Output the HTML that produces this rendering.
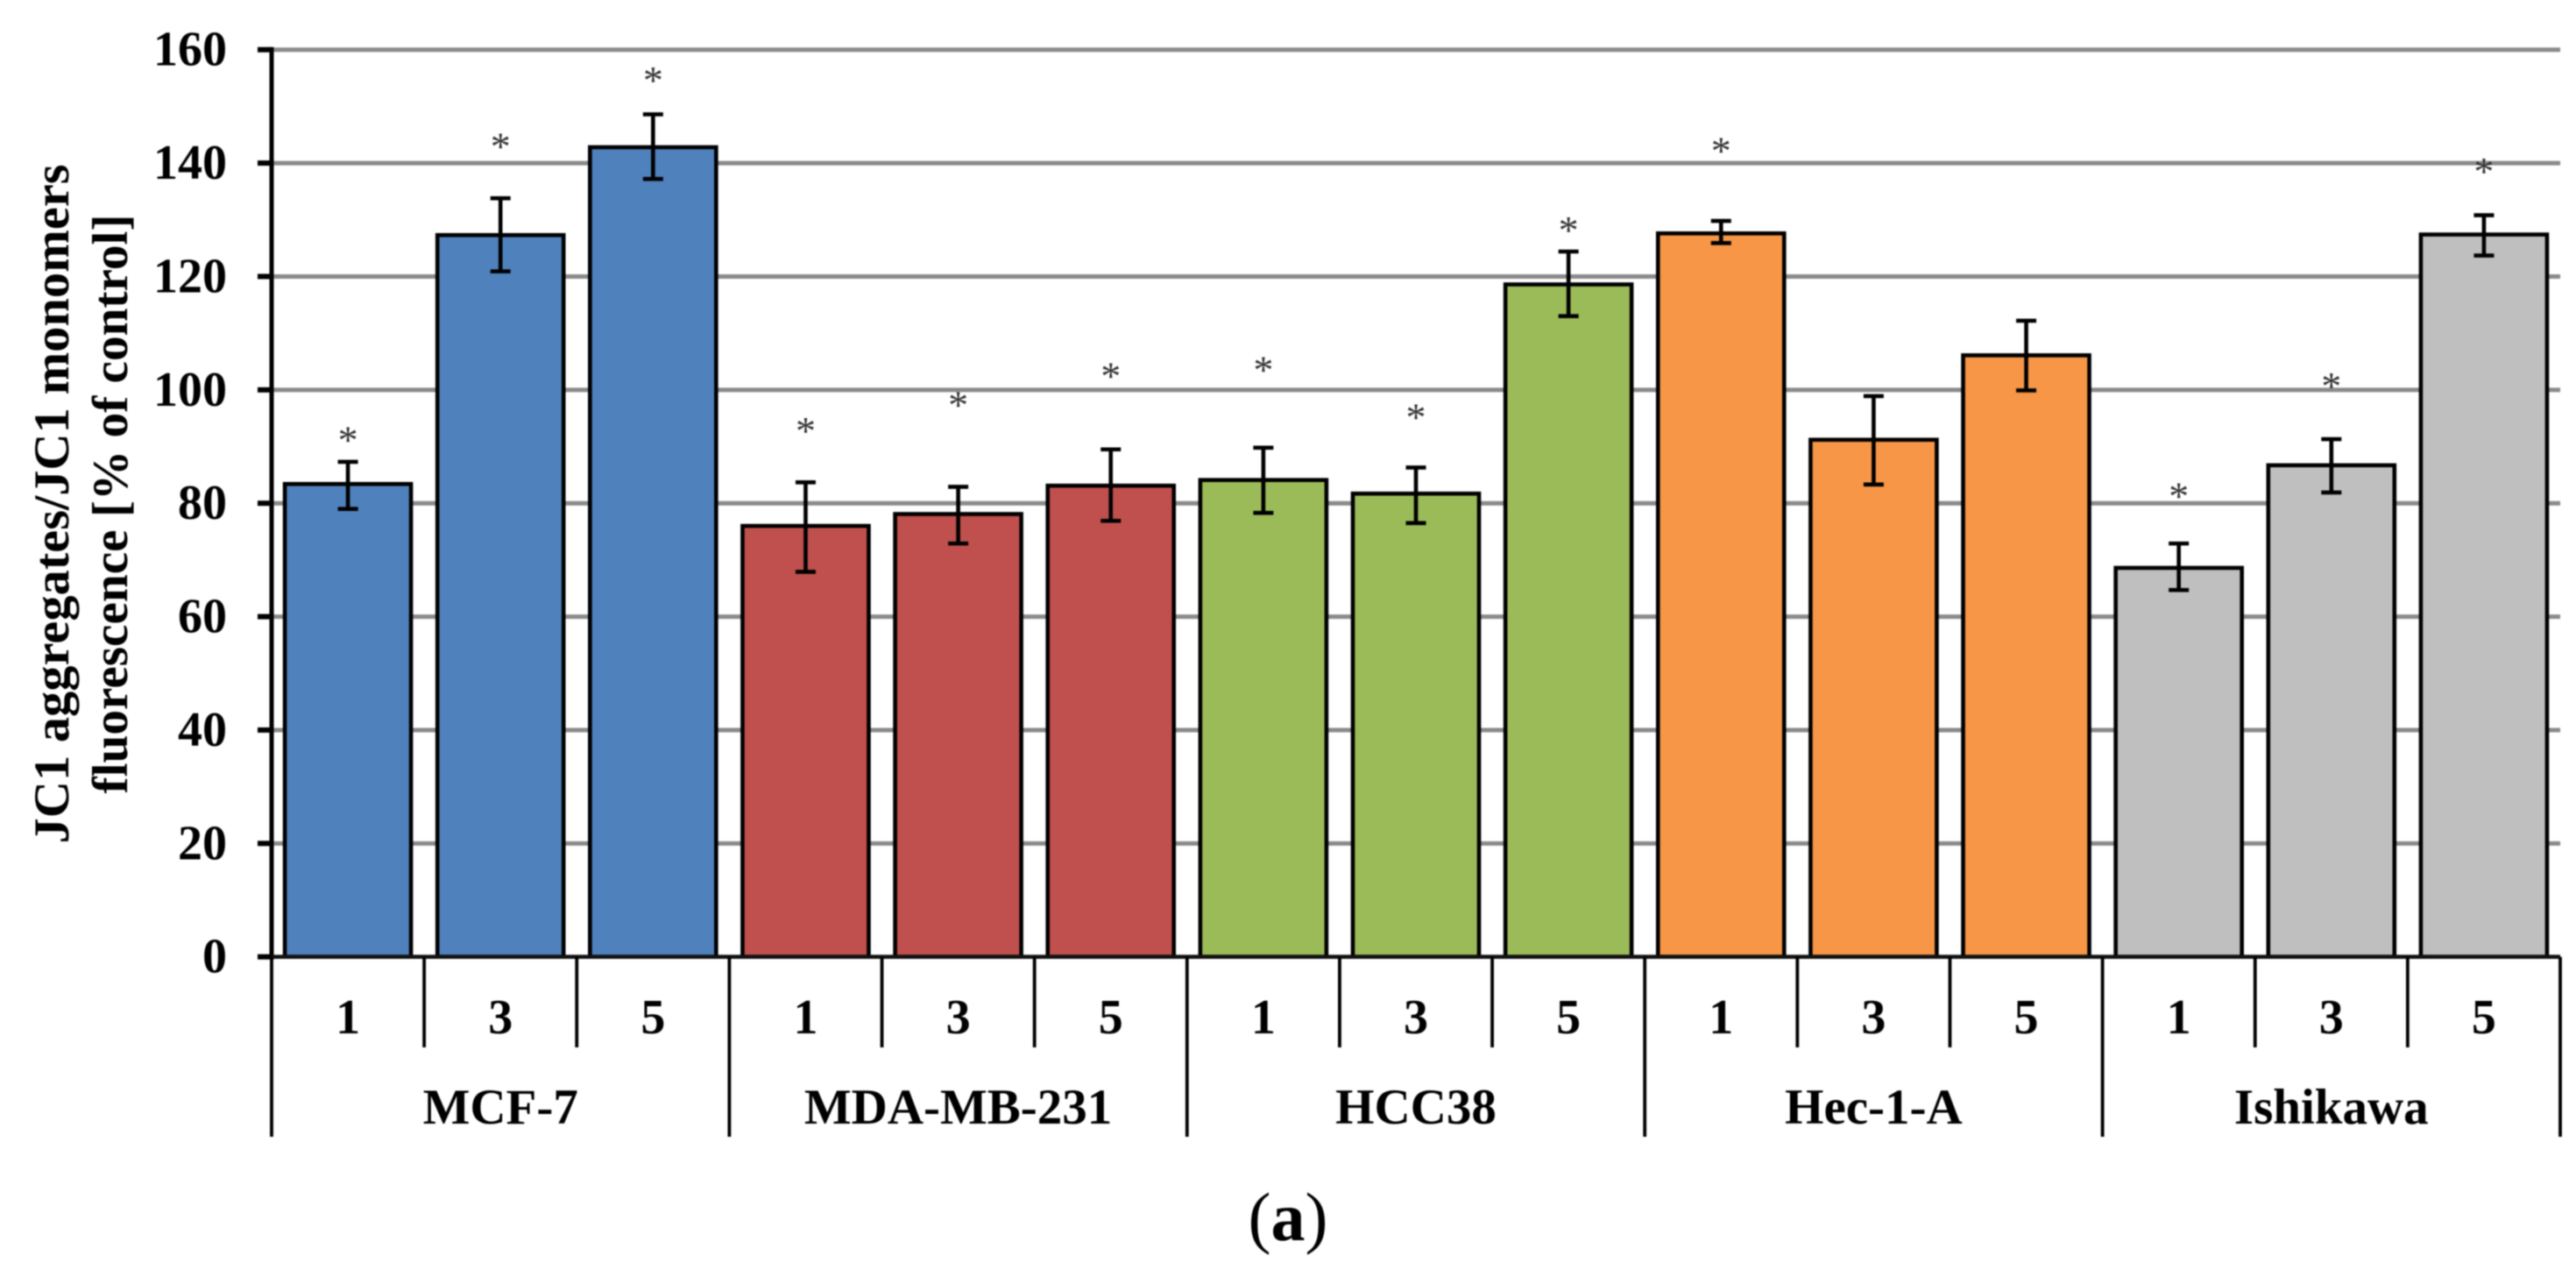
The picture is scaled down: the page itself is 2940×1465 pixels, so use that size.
<!DOCTYPE html>
<html lang="en">
<head>
<meta charset="utf-8">
<title>JC1 aggregates/JC1 monomers fluorescence</title>
<style>
html,body{margin:0;padding:0;background:#fff;width:2940px;height:1465px;overflow:hidden}
svg{display:block;filter:blur(0.7px)}
text{font-family:"Liberation Serif",serif;fill:#000}
</style>
</head>
<body>
<svg id="chart" xmlns="http://www.w3.org/2000/svg" width="2940" height="1465" viewBox="0 0 2940 1465"></svg>
<script>
const groups = ["MCF-7", "MDA-MB-231", "HCC38", "Hec-1-A", "Ishikawa"];
const doses = ["1", "3", "5"];
const yTicks = [0, 20, 40, 60, 80, 100, 120, 140, 160];
const values = [83.4, 127.3, 142.8, 76, 78.1, 83.1, 84.1, 81.7, 118.6, 127.6, 91.2, 106.1, 68.6, 86.7, 127.4];
const errHigh = [87.3, 133.8, 148.6, 83.7, 82.9, 89.5, 89.8, 86.3, 124.4, 129.8, 98.9, 112.2, 72.9, 91.3, 130.8];
const errLow = [79, 120.9, 137.2, 67.9, 72.9, 76.9, 78.3, 76.5, 113, 125.9, 83.3, 99.9, 64.7, 81.9, 123.7];
const stars = [92, 143.8, 155.5, 93.6, 98.2, 103.3, 104.4, 96, 129, 143, null, null, 82.1, 101.5, 139.4];
const groupColors = ["#4f81bd", "#c0504d", "#9bbb59", "#f79646", "#bfbfbf"];

const NS = "http://www.w3.org/2000/svg";
const svg = document.getElementById("chart");
const axisLeft = 310, axisRight = 2922, yZero = 1091.7, yTop = 56.7, yMax = 160;
const n = values.length;
const catW = (axisRight - axisLeft) / n;
const barW = 144;
const y = v => yZero - (v / yMax) * (yZero - yTop);
const cx = i => axisLeft + (i + 0.5) * catW;
const edge = i => axisLeft + i * catW;

function make(tag, attrs) {
  const el = document.createElementNS(NS, tag);
  for (const k in attrs) el.setAttribute(k, attrs[k]);
  svg.appendChild(el);
  return el;
}

// gridlines
yTicks.forEach(t => {
  if (t === 0) return;
  const g = make("line", {x1: axisLeft, x2: axisRight, y1: y(t), y2: y(t), stroke: "#8a8a8a", "stroke-width": 5});
  
  
});

// bars
values.forEach((v, i) => {
  const group = Math.floor(i / doses.length);
  const b = make("rect", {x: cx(i) - barW / 2, y: y(v), width: barW, height: yZero - y(v), fill: groupColors[group], stroke: "#000", "stroke-width": 4.6});
  
  
});

// error bars
values.forEach((v, i) => {
  const x = cx(i), hi = y(errHigh[i]), lo = y(errLow[i]);
  const e = make("path", {d: `M${x} ${hi}V${lo}M${x - 11.5} ${hi}H${x + 11.5}M${x - 11.5} ${lo}H${x + 11.5}`, stroke: "#000", "stroke-width": 4.6, fill: "none"});
  
  
});

// significance stars
stars.forEach((s, i) => {
  if (s === null) return;
  const st = make("text", {x: cx(i), y: y(s) + 21, "text-anchor": "middle", "font-size": 46});
  st.style.fill = "#333";
  st.textContent = "*";
  
  
});

// y axis
const yAxis = make("line", {x1: axisLeft, x2: axisLeft, y1: yTop - 3, y2: yZero + 3, stroke: "#000", "stroke-width": 5});



yTicks.forEach(t => {
  const m = make("line", {x1: 294, x2: axisLeft, y1: y(t), y2: y(t), stroke: "#000", "stroke-width": 6});
  
  
  const l = make("text", {x: 259, y: y(t) + 18, "text-anchor": "end", "font-size": 56, "font-weight": "bold"});
  l.textContent = t;
  
  
});

// x axis
const xAxis = make("line", {x1: axisLeft, x2: axisRight, y1: yZero, y2: yZero, stroke: "#111", "stroke-width": 4.6});



// category separators and dose labels
for (let i = 0; i <= n; i++) {
  const isGroup = i % doses.length === 0;
  const sep = make("line", {x1: edge(i), x2: edge(i), y1: yZero, y2: isGroup ? 1297 : 1195, stroke: "#000", "stroke-width": 3.8});
  
  
}
values.forEach((v, i) => {
  const l = make("text", {x: cx(i), y: 1179, "text-anchor": "middle", "font-size": 56, "font-weight": "bold"});
  l.textContent = doses[i % doses.length];
  
  
});

// group labels
groups.forEach((name, g) => {
  const l = make("text", {x: edge(g * doses.length) + catW * doses.length / 2, y: 1282, "text-anchor": "middle", "font-size": 57, "font-weight": "bold"});
  l.textContent = name;
  
  
});

// y axis title
const title1 = make("text", {transform: "translate(78 575) rotate(-90)", "text-anchor": "middle", "font-size": 57, "font-weight": "bold", textLength: 775, lengthAdjust: "spacingAndGlyphs"});
title1.textContent = "JC1 aggregates/JC1 monomers";


const title2 = make("text", {transform: "translate(145 575) rotate(-90)", "text-anchor": "middle", "font-size": 57, "font-weight": "bold", textLength: 661, lengthAdjust: "spacingAndGlyphs"});
title2.textContent = "fluorescence [% of control]";



// caption
const cap = make("text", {x: 1470, y: 1415, "text-anchor": "middle", "font-size": 78});
const capOpen = document.createElementNS(NS, "tspan");
capOpen.textContent = "(";
cap.appendChild(capOpen);
const capA = document.createElementNS(NS, "tspan");
capA.setAttribute("font-weight", "bold");
capA.textContent = "a";
cap.appendChild(capA);
const capClose = document.createElementNS(NS, "tspan");
capClose.textContent = ")";
cap.appendChild(capClose);


</script>
</body>
</html>
